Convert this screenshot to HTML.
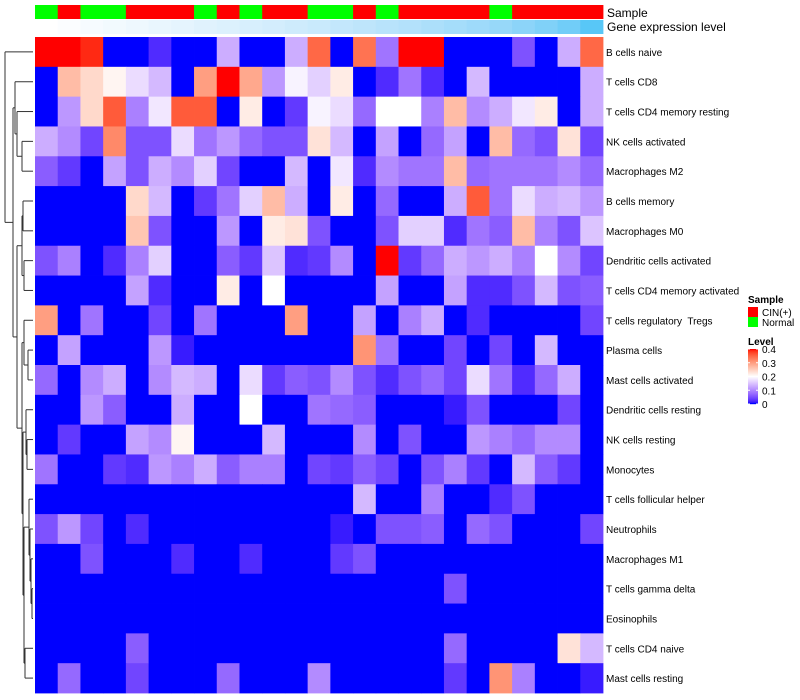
<!DOCTYPE html>
<html><head><meta charset="utf-8">
<style>
body{margin:0;background:#fff;}
svg{display:block;font-family:"Liberation Sans",sans-serif;}
svg text{white-space:pre;}
</style></head>
<body>
<svg id="chart" width="800" height="700"></svg>
<script>
const rowNames=["B cells naive","T cells CD8","T cells CD4 memory resting","NK cells activated","Macrophages M2","B cells memory","Macrophages M0","Dendritic cells activated","T cells CD4 memory activated","T cells regulatory  Tregs","Plasma cells","Mast cells activated","Dendritic cells resting","NK cells resting","Monocytes","T cells follicular helper","Neutrophils","Macrophages M1","T cells gamma delta","Eosinophils","T cells CD4 naive","Mast cells resting"];
const sampleGroups=["Normal","CIN(+)","Normal","Normal","CIN(+)","CIN(+)","CIN(+)","Normal","CIN(+)","Normal","CIN(+)","CIN(+)","Normal","Normal","CIN(+)","Normal","CIN(+)","CIN(+)","CIN(+)","CIN(+)","Normal","CIN(+)","CIN(+)","CIN(+)","CIN(+)"];
const geneExpr=[0,0.03,0.06,0.09,0.12,0.15,0.18,0.21,0.24,0.27,0.3,0.33,0.36,0.4,0.43,0.47,0.5,0.54,0.58,0.62,0.66,0.72,0.78,0.85,0.95];
const legendTicks=[0,0.1,0.2,0.3,0.4];
const values=[
[0.4,0.4,0.39,0,0,0.02,0,0,0.13,0,0,0.13,0.35,0,0.34,0.08,0.4,0.4,0,0,0,0.05,0,0.13,0.35],
[0,0.27,0.24,0.21,0.17,0.14,0,0.3,0.4,0.29,0.11,0.19,0.16,0.22,0,0.02,0.08,0.02,0,0.14,0,0,0,0,0.13],
[0,0.11,0.24,0.36,0.09,0.18,0.36,0.36,0,0.22,0,0.03,0.19,0.17,0.07,0.2,0.2,0.09,0.27,0.1,0.13,0.18,0.22,0,0.13],
[0.13,0.1,0.04,0.32,0.05,0.05,0.17,0.08,0.11,0.07,0.05,0.05,0.23,0.14,0,0.12,0,0.07,0.12,0,0.27,0.07,0.05,0.23,0.04],
[0.06,0.03,0,0.12,0.05,0.13,0.1,0.16,0.04,0,0,0.14,0,0.18,0.02,0.1,0.08,0.08,0.27,0.07,0.08,0.08,0.08,0.1,0.07],
[0,0,0,0,0.24,0.14,0,0.03,0.08,0.16,0.27,0.13,0,0.22,0,0.07,0,0,0.13,0.36,0.08,0.17,0.13,0.14,0.11],
[0,0,0,0,0.26,0.05,0,0,0.11,0,0.22,0.23,0.05,0,0,0.05,0.16,0.16,0.02,0.08,0.06,0.27,0.09,0.05,0.15],
[0.05,0.09,0,0.02,0.09,0.16,0,0,0.06,0.03,0.15,0.02,0.03,0.1,0,0.4,0.03,0.07,0.13,0.11,0.13,0.09,0.2,0.1,0.04],
[0,0,0,0,0.12,0.02,0,0,0.22,0,0.2,0,0,0,0,0.12,0,0,0.12,0.02,0.02,0.05,0.14,0.05,0.06],
[0.3,0,0.08,0,0,0.04,0,0.08,0,0,0,0.3,0,0,0.12,0,0.09,0.13,0,0.02,0,0,0,0,0.04],
[0,0.12,0,0,0,0.11,0.01,0,0,0,0,0,0,0,0.31,0.08,0,0,0.04,0,0.04,0,0.14,0,0],
[0.07,0,0.1,0.13,0,0.1,0.14,0.13,0,0.17,0.03,0.06,0.05,0.1,0.05,0.02,0.05,0.07,0.04,0.17,0.08,0.02,0.07,0.13,0],
[0,0,0.11,0.06,0,0,0.13,0,0,0.2,0,0,0.08,0.07,0.06,0,0,0,0.01,0.05,0,0,0,0.04,0],
[0,0.03,0,0,0.12,0.1,0.21,0,0,0,0.14,0,0,0,0.1,0,0.05,0,0,0.11,0.09,0.07,0.1,0.1,0],
[0.08,0,0,0.03,0.02,0.11,0.09,0.13,0.06,0.09,0.09,0,0.04,0.03,0.06,0.04,0,0.05,0.09,0.03,0,0.14,0.06,0.03,0],
[0,0,0,0,0,0,0,0,0,0,0,0,0,0,0.14,0,0,0.09,0,0,0.02,0.05,0,0,0],
[0.05,0.11,0.04,0,0.02,0,0,0,0,0,0,0,0,0.01,0,0.05,0.05,0.06,0,0.07,0.05,0,0,0,0.04],
[0,0,0.05,0,0,0,0.02,0,0,0.02,0,0,0,0.03,0.05,0,0,0,0,0,0,0,0,0,0],
[0,0,0,0,0,0,0,0,0,0,0,0,0,0,0,0,0,0,0.05,0,0,0,0,0,0],
[0,0,0,0,0,0,0,0,0,0,0,0,0,0,0,0,0,0,0,0,0,0,0,0,0],
[0,0,0,0,0.06,0,0,0,0,0,0,0,0,0,0,0,0,0,0.07,0,0,0,0,0.23,0.14],
[0,0.07,0,0,0.04,0,0,0,0.07,0,0,0,0.1,0,0,0,0,0,0.03,0,0.31,0.09,0,0,0.01]];
// dendrogram: [height, left, right]
const tree=[28,0,[20,[18,1,[16,2,[11,3,4]]],[16,[11,[10,5,6],[9,7,8]],[11,[9,9,[5,10,11]],[10,[7,12,[6,13,14]],[9,[4,15,[3,16,[2,17,[1,18,19]]]],[8,20,21]]]]]]];

const NS="http://www.w3.org/2000/svg";
const svg=document.getElementById('chart');
function mk(tag,attrs,parent){const e=document.createElementNS(NS,tag);for(const k in attrs)e.setAttribute(k,attrs[k]);(parent||svg).appendChild(e);return e;}
const X0=35,X1=603,Y0=37,Y1=693;
const nC=values[0].length,nR=values.length;
const cw=(X1-X0)/nC,rh=(Y1-Y0)/nR;
const xPos=c=>X0+c*cw, yPos=r=>Y0+r*rh;
function toLin(c){c/=255;return c<=0.04045?c/12.92:Math.pow((c+0.055)/1.055,2.4);}
function fromLin(c){c=c<=0.0031308?12.92*c:1.055*Math.pow(c,1/2.4)-0.055;return Math.max(0,Math.min(255,Math.round(c*255)));}
function rgb2lab(r,g,b){r=toLin(r);g=toLin(g);b=toLin(b);let x=(r*0.4124+g*0.3576+b*0.1805)/0.95047,y=r*0.2126+g*0.7152+b*0.0722,z=(r*0.0193+g*0.1192+b*0.9505)/1.08883;const f=t=>t>0.008856?Math.cbrt(t):7.787*t+16/116;x=f(x);y=f(y);z=f(z);return[116*y-16,500*(x-y),200*(y-z)];}
function lab2rgb(L,a,b){let y=(L+16)/116,x=a/500+y,z=y-b/200;const fi=t=>t*t*t>0.008856?t*t*t:(t-16/116)/7.787;x=fi(x)*0.95047;y=fi(y);z=fi(z)*1.08883;const r=x*3.2406+y*-1.5372+z*-0.4986,g=x*-0.9689+y*1.8758+z*0.0415,bb=x*0.0557+y*-0.2040+z*1.0570;return`rgb(${fromLin(r)},${fromLin(g)},${fromLin(bb)})`;}
const LB=rgb2lab(0,0,255),LW=rgb2lab(255,255,255),LR=rgb2lab(255,0,0);
function colorOf(v){v=Math.max(0,Math.min(0.4,v));let a,b,t;if(v<=0.2){a=LB;b=LW;t=v/0.2;}else{a=LW;b=LR;t=(v-0.2)/0.2;}return lab2rgb(a[0]+(b[0]-a[0])*t,a[1]+(b[1]-a[1])*t,a[2]+(b[2]-a[2])*t);}
const geneColor=t=>lab2rgb(...[0,1,2].map(i=>{const w=rgb2lab(255,255,255),c=rgb2lab(72,196,246);return w[i]+(c[i]-w[i])*t;}));

const ga=mk('g',{});


sampleGroups.forEach((s,c)=>{
  const r=mk('rect',{x:xPos(c),y:5,width:cw+0.4,height:14,fill:s==="Normal"?"#00FF00":"#FF0000"},ga);
  
  
});
geneExpr.forEach((g,c)=>{
  const r=mk('rect',{x:xPos(c),y:20,width:cw+0.4,height:14,fill:geneColor(g)},ga);
  
  
});
let t=mk('text',{x:607,y:17,'font-size':12,fill:'#000'});t.textContent="Sample";


t=mk('text',{x:607,y:31,'font-size':12,fill:'#000'});t.textContent="Gene expression level";



const gh=mk('g',{});


values.forEach((row,r)=>row.forEach((v,c)=>{
  const e=mk('rect',{x:xPos(c),y:yPos(r),width:cw+0.4,height:rh+0.4,fill:colorOf(v)},gh);
  
  
}));
rowNames.forEach((n,r)=>{
  const e=mk('text',{x:606,y:yPos(r)+rh/2+4,'font-size':10,fill:'#000'});
  e.textContent=n;
  
  
});

const gd=mk('g',{stroke:'#333','stroke-width':1,fill:'none'});


const hx=h=>33-h;
function draw(n){
  if(typeof n==="number")return{y:yPos(n)+rh/2,x:33};
  const a=draw(n[1]),b=draw(n[2]),x=hx(n[0]);
  mk('line',{x1:x,y1:a.y,x2:a.x,y2:a.y},gd);
  mk('line',{x1:x,y1:b.y,x2:b.x,y2:b.y},gd);
  mk('line',{x1:x,y1:a.y,x2:x,y2:b.y},gd);
  return{y:(a.y+b.y)/2,x:x};
}
draw(tree);

const gl=mk('g',{});


t=mk('text',{x:748,y:303,'font-size':10,'font-weight':'bold'},gl);t.textContent="Sample";
[["CIN(+)","#FF0000"],["Normal","#00FF00"]].forEach((d,i)=>{
  const r=mk('rect',{x:748,y:307+i*10,width:10,height:10,fill:d[1]},gl);
  
  
  const tx=mk('text',{x:762,y:316+i*10,'font-size':10},gl);tx.textContent=d[0];
  
  
});
t=mk('text',{x:748,y:345,'font-size':10,'font-weight':'bold'},gl);t.textContent="Level";
const LY0=349,LY1=404;
for(let i=0;i<55;i++){const v=0.4*(1-i/54);mk('rect',{x:748,y:LY0+i,width:10,height:1.2,fill:colorOf(v)},gl);}
legendTicks.forEach(v=>{
  const y=LY1-(v/0.4)*(LY1-LY0);
  mk('line',{x1:748,y1:y,x2:750,y2:y,stroke:'#fff'},gl);
  mk('line',{x1:756,y1:y,x2:758,y2:y,stroke:'#fff'},gl);
  const tx=mk('text',{x:762,y:y+4,'font-size':10},gl);tx.textContent=v===0?"0":v.toFixed(1);
  
  
});
</script>
</body></html>
